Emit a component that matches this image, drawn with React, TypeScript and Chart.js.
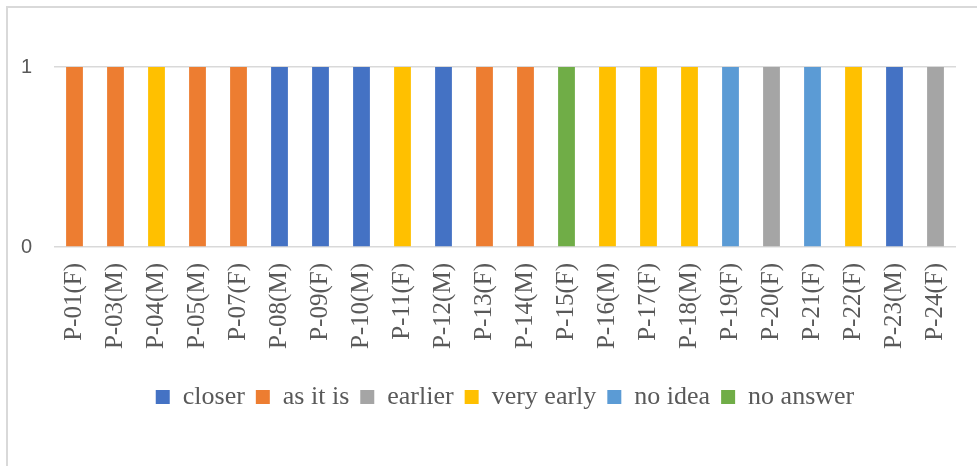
import React, { useEffect, useRef } from "react";
import { Chart, registerables } from "chart.js";

Chart.register(...registerables);

const categories = [
  "P-01(F)", "P-03(M)", "P-04(M)", "P-05(M)", "P-07(F)", "P-08(M)", "P-09(F)", "P-10(M)",
  "P-11(F)", "P-12(M)", "P-13(F)", "P-14(M)", "P-15(F)", "P-16(M)", "P-17(F)", "P-18(M)",
  "P-19(F)", "P-20(F)", "P-21(F)", "P-22(F)", "P-23(M)", "P-24(F)",
];

// response given by each participant (same order as categories)
const responses = [
  "as it is", "as it is", "very early", "as it is", "as it is", "closer", "closer", "closer",
  "very early", "closer", "as it is", "as it is", "no answer", "very early", "very early", "very early",
  "no idea", "earlier", "no idea", "very early", "closer", "earlier",
];

const seriesNames = ["closer", "as it is", "earlier", "very early", "no idea", "no answer"];
const seriesColors = ["#4472C4", "#ED7D31", "#A5A5A5", "#FFC000", "#5B9BD5", "#70AD47"];
const yTicks = [0, 1];

// centre the legend on the plot area (as the original does)
const legendOnPlotArea = {
  id: "legendOnPlotArea",
  afterLayout(chart: any) {
    const lg = chart.legend;
    if (lg && chart.chartArea) {
      lg.left = chart.chartArea.left;
      lg.right = chart.chartArea.right;
      lg.width = lg.right - lg.left;
    }
  },
};

export default function App() {
  const canvasRef = useRef<HTMLCanvasElement | null>(null);

  useEffect(() => {
    const canvas = canvasRef.current;
    if (!canvas) return;
    const datasets = seriesNames.map((name, s) => ({
      label: name,
      data: categories.map((_, i) => (responses[i] === name ? 1 : null)),
      backgroundColor: seriesColors[s],
      borderWidth: 0,
      barPercentage: 0.41,
      categoryPercentage: 1,
      stack: "one",
    }));
    const chart = new Chart(canvas, {
      type: "bar",
      data: { labels: categories, datasets },
      plugins: [legendOnPlotArea],
      options: {
        animation: false,
        responsive: false,
        layout: { padding: { top: 67, right: 21, bottom: 46, left: 0 } },
        plugins: {
          legend: {
            position: "bottom",
            labels: {
              boxWidth: 14,
              boxHeight: 14,
              padding: 11,
              color: "#595959",
              font: { family: "'Liberation Serif', 'Times New Roman', serif", size: 26 },
            },
          },
          tooltip: { enabled: false },
        },
        scales: {
          x: {
            stacked: true,
            grid: { display: false, drawTicks: false },
            border: { display: false },
            ticks: {
              minRotation: 90,
              maxRotation: 90,
              autoSkip: false,
              padding: 16,
              color: "#595959",
              font: { family: "'Liberation Serif', 'Times New Roman', serif", size: 25 },
            },
            afterFit: (scale: any) => {
              scale.height = 126;
              scale.paddingLeft = 0;
              scale.paddingRight = 0;
            },
          },
          y: {
            stacked: true,
            min: 0,
            max: 1,
            afterBuildTicks: (scale: any) => {
              scale.ticks = yTicks.map((v) => ({ value: v }));
            },
            grid: { color: "#d9d9d9", lineWidth: 1.5, drawTicks: false },
            border: { display: false },
            ticks: {
              padding: 22,
              color: "#595959",
              font: { family: "'Liberation Sans', Arial, sans-serif", size: 20 },
            },
            afterFit: (scale: any) => {
              scale.width = 54;
            },
          },
        },
      },
    });
    return () => chart.destroy();
  }, []);

  return (
    <div
      style={{
        position: "fixed",
        left: 0,
        top: 0,
        width: 977,
        height: 466,
        overflow: "hidden",
        background: "#ffffff",
      }}
    >
      <div
        style={{
          position: "absolute",
          left: 6,
          top: 6,
          width: 1100,
          height: 600,
          border: "2px solid #d9d9d9",
          boxSizing: "border-box",
        }}
      />
      <canvas
        ref={canvasRef}
        width={977}
        height={466}
        style={{ position: "absolute", left: 0, top: 0, width: 977, height: 466 }}
      />
    </div>
  );
}
